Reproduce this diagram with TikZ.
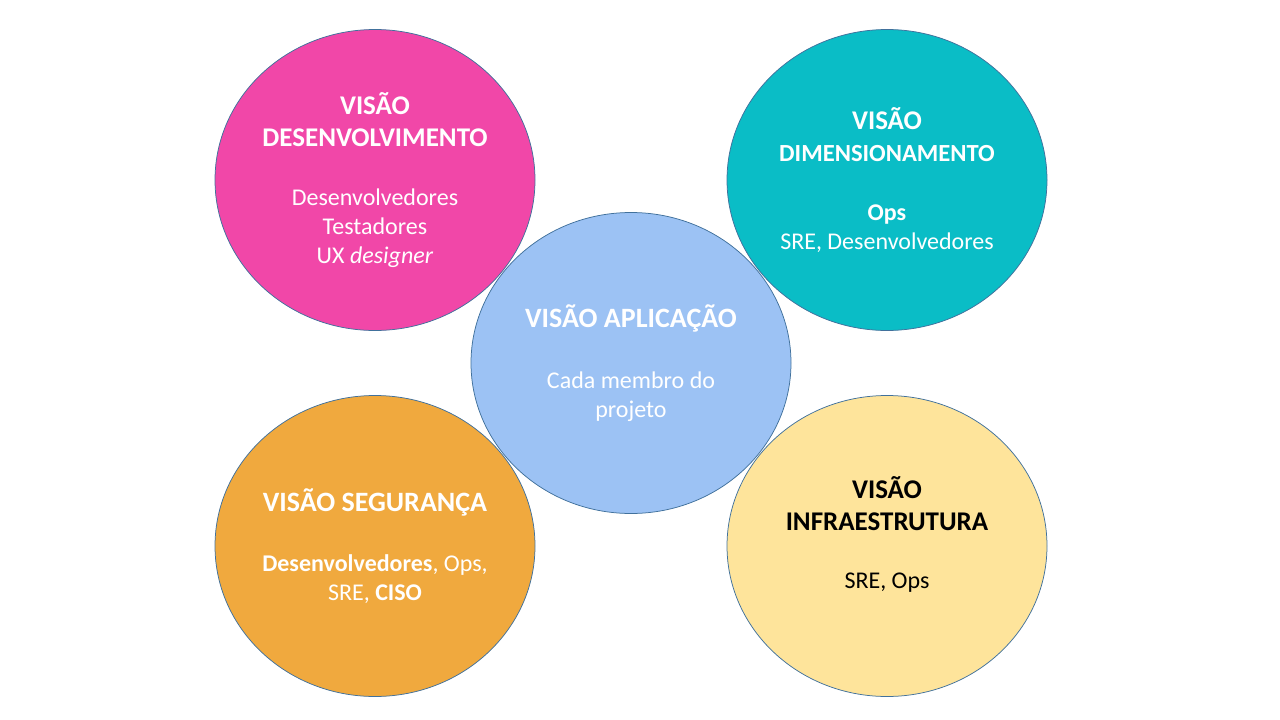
\documentclass[tikz,border=0pt]{standalone}
\usepackage{fontspec}
\setmainfont{Carlito}
\usetikzlibrary{shapes.geometric}
\definecolor{devpink}{HTML}{F147A8}
\definecolor{dimteal}{HTML}{0ABDC6}
\definecolor{appblue}{HTML}{9CC2F4}
\definecolor{segorange}{HTML}{F0A93E}
\definecolor{infyellow}{HTML}{FEE49B}
\definecolor{rimblue}{HTML}{41719C}
\newcommand{\vtitle}[2][27]{{\fontsize{#1}{29}\selectfont\bfseries #2}}
\begin{document}
\begin{tikzpicture}[x=1pt,y=1pt,
	bubble/.style={ellipse,minimum width=320pt,minimum height=301pt,inner sep=-30pt,outer sep=0pt,draw=rimblue,line width=0.75pt,align=center,text=white,font=\fontsize{24}{29}\selectfont}]
	\useasboundingbox (0,0) rectangle (1280,-720);
	\node [bubble,fill=devpink] at (375,-180) (dev) {\vtitle{VISÃO}\\[3pt]\vtitle{DESENVOLVIMENTO}\\[30pt]Desenvolvedores\\Testadores\\UX \textit{designer}};
	\node [bubble,fill=dimteal] at (887,-180) (dim) {\vtitle{VISÃO}\\[3pt]\vtitle[24.6]{DIMENSIONAMENTO}\\[30pt]\textbf{Ops}\\SRE, Desenvolvedores};
	\node [bubble,fill=appblue] at (631,-363) (app) {\vtitle[28]{VISÃO APLICAÇÃO}\\[32pt]Cada membro do\\projeto};
	\node [bubble,fill=segorange] at (375,-546) (seg) {\vtitle[28]{VISÃO SEGURANÇA}\\[31pt]\textbf{Desenvolvedores}, Ops,\\SRE, \textbf{CISO}};
	\node [bubble,fill=infyellow,text=black] at (887,-546) (inf) {\vtitle{VISÃO}\\[3pt]\vtitle{INFRAESTRUTURA}\\[29pt]SRE, Ops\\[-2pt]\mbox{}};
\end{tikzpicture}
\end{document}
